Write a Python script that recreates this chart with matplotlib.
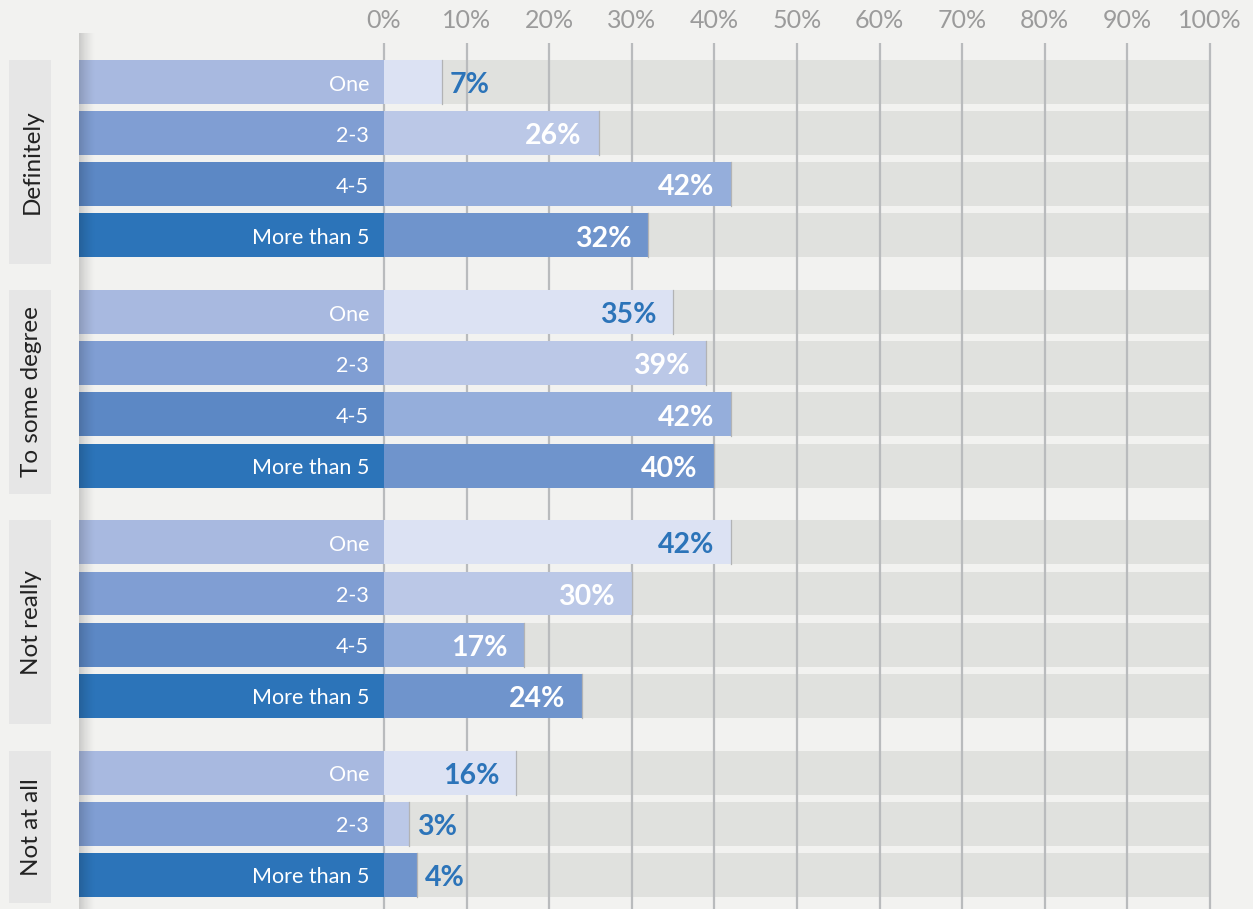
import numpy as np
import matplotlib
matplotlib.use("Agg")
import matplotlib.pyplot as plt

plt.rcParams['font.family'] = ['Lato', 'DejaVu Sans']

# ---- data ----
groups = ["Definitely", "To some degree", "Not really", "Not at all"]
group_rows = [
    ["One", "2-3", "4-5", "More than 5"],
    ["One", "2-3", "4-5", "More than 5"],
    ["One", "2-3", "4-5", "More than 5"],
    ["One", "2-3", "More than 5"],
]
definitely = [7, 26, 42, 32]
to_some_degree = [35, 39, 42, 40]
not_really = [42, 30, 17, 24]
not_at_all = [16, 3, 4]
group_values = [definitely, to_some_degree, not_really, not_at_all]
tick_values = list(range(0, 101, 10))
tick_labels = [f"{v}%" for v in tick_values]

# ---- styling ----
bg = "#f2f2f0"
track_color = "#e0e1de"
grid_color = "#b9bbbd"
cat_colors = {"One": "#a8b9e0", "2-3": "#809ed3", "4-5": "#5c88c5", "More than 5": "#2c74b9"}
val_colors = {"One": "#dce2f3", "2-3": "#bbc8e7", "4-5": "#95aedb", "More than 5": "#6f94cc"}
blue_text = "#2c74b9"

W, H = 1253, 909
fig = plt.figure(figsize=(W / 100, H / 100), dpi=100, facecolor=bg)
ax = fig.add_axes([0, 0, 1, 1])
ax.set_facecolor(bg)
for s in ax.spines.values():
    s.set_visible(False)
ax.set_xticks([])
ax.set_yticks([])

# pixel -> data mapping helpers
px0, px100 = 384.0, 1210.0
ppu = (px100 - px0) / 100.0
row0_px, pitch = 82.0, 51.15


def xd(px):
    return (px - px0) / ppu


def yd(py):
    return (py - row0_px) / pitch


ax.set_xlim(xd(0), xd(W))
ax.set_ylim(yd(H), yd(0))

bar_h = 0.86
left_edge = xd(79)
label_gap = 15 / ppu

# row positions: 4 rows per group with an extra half-row gap between groups
positions = []
start = 0.0
for rows in group_rows:
    positions.append([start + i for i in range(len(rows))])
    start += len(rows) + 0.5

# gray tracks
for pos_list in positions:
    for p in pos_list:
        ax.barh(p, 100, left=0, height=bar_h, color=track_color, zorder=1, linewidth=0)

# gridlines and top tick labels
for v, lab in zip(tick_values, tick_labels):
    ax.plot([v, v], [yd(43), yd(H + 5)], color=grid_color, lw=1.6, zorder=2,
            solid_capstyle="butt")
    ax.text(v, yd(21), lab, ha="center", va="center", fontsize=18, color="#9b9b9b")

# bars
for g, (name, rows, vals, pos_list) in enumerate(zip(groups, group_rows, group_values, positions)):
    for row, v, p in zip(rows, vals, pos_list):
        # category bar on the left
        ax.barh(p, 0 - left_edge, left=left_edge, height=bar_h, color=cat_colors[row],
                zorder=3, linewidth=0)
        ax.text(-label_gap, p + 0.05, row, ha="right", va="center", fontsize=15.5,
                color="white", zorder=6)
        # value bar
        ax.barh(p, v, left=0, height=bar_h, color=val_colors[row], zorder=3, linewidth=0)
        ax.plot([v, v], [p - bar_h / 2, p + bar_h / 2], color="#b2b3b5", lw=0.9, zorder=4)
        if v >= 10:
            color = blue_text if row == "One" else "white"
            ax.text(v - 17 / ppu, p + 0.06, f"{v}%", ha="right", va="center",
                    fontsize=20.5, fontweight="bold", color=color, zorder=6)
        else:
            ax.text(v + 8 / ppu, p + 0.06, f"{v}%", ha="left", va="center",
                    fontsize=20.5, fontweight="bold", color=blue_text, zorder=6)

    # group label box
    top = pos_list[0] - bar_h / 2
    bottom = pos_list[-1] + bar_h / 2 + 0.12
    ax.add_patch(plt.Rectangle((xd(9), top), xd(51) - xd(9), bottom - top,
                               facecolor="#e6e6e6", edgecolor="none", zorder=2))
    ax.text(xd(32), (top + bottom) / 2, name, rotation=90, ha="center", va="center",
            fontsize=17.5, color="#222222", zorder=6)

# soft shadow along the left edge of the category bars
n = 64
alpha = np.linspace(0.28, 0.0, n) ** 1.4
grad = np.zeros((1, n, 4))
grad[..., 3] = alpha
ax.imshow(grad, extent=(xd(79), xd(96), yd(H), yd(33)), aspect="auto",
          interpolation="bilinear", zorder=5)
ax.set_xlim(xd(0), xd(W))
ax.set_ylim(yd(H), yd(0))

fig.savefig("out.png", dpi=100, facecolor=bg)
